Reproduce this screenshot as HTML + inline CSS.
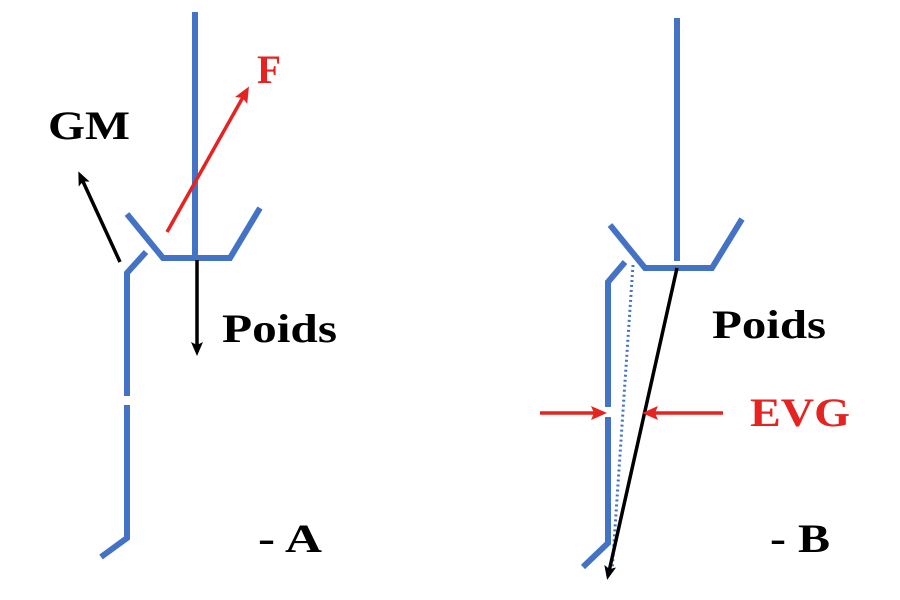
<!DOCTYPE html>
<html><head><style>
html,body{margin:0;padding:0;background:#fff;}
svg{display:block;}
text{font-family:"Liberation Serif",serif;font-weight:bold;}
</style></head><body>
<svg width="900" height="600" viewBox="0 0 900 600" xmlns="http://www.w3.org/2000/svg">
<defs>
<marker id="ak" markerWidth="14" markerHeight="14" refX="10" refY="7" orient="auto" markerUnits="userSpaceOnUse" viewBox="0 0 14 14"><path d="M0,1 L14,7 L0,13 L3,7 Z" fill="#000"/></marker>
<marker id="ar" markerWidth="16" markerHeight="16" refX="12" refY="8" orient="auto" markerUnits="userSpaceOnUse" viewBox="0 0 16 16"><path d="M0,1 L16,8 L0,15 L3,8 Z" fill="#e52421"/></marker>
</defs>
<g fill="none" stroke="#4472c4" stroke-width="6" stroke-linejoin="miter">
<line x1="195" y1="12" x2="195" y2="258"/>
<polyline points="127,214 163,258 230,258 260,208"/>
<polyline points="146,252 127,273 127,396"/>
<polyline points="127,405 127,538 101,557"/>
<line x1="677" y1="18" x2="677" y2="261"/>
<polyline points="610,225 645,268 712,268 742,219"/>
<polyline points="625,262 608,282 608,407"/>
<polyline points="608,417 608,543 583,567"/>
</g>
<g stroke-width="3.5" fill="none">
<line x1="120" y1="262" x2="80" y2="175" stroke="#000" marker-end="url(#ak)"/>
<line x1="167" y1="232" x2="247" y2="90" stroke="#e52421" marker-end="url(#ar)"/>
<line x1="197" y1="260" x2="197" y2="352" stroke="#000" marker-end="url(#ak)"/>
<line x1="633" y1="265" x2="612" y2="572" stroke="#4472c4" stroke-width="3" stroke-dasharray="2,3"/>
<line x1="677" y1="268" x2="608" y2="576" stroke="#000" marker-end="url(#ak)"/>
<line x1="540" y1="413" x2="603" y2="413" stroke="#e52421" marker-end="url(#ar)"/>
<line x1="723" y1="413" x2="646" y2="413" stroke="#e52421" marker-end="url(#ar)"/>
</g>
<text x="48" y="139" font-size="40" fill="#000" textLength="82" lengthAdjust="spacingAndGlyphs">GM</text>
<text x="257" y="83" font-size="40" fill="#e52421" textLength="24" lengthAdjust="spacingAndGlyphs">F</text>
<text x="222" y="342" font-size="40" fill="#000" textLength="115" lengthAdjust="spacingAndGlyphs">Poids</text>
<text x="258" y="552" font-size="40" fill="#000" textLength="64" lengthAdjust="spacingAndGlyphs">-  A</text>
<text x="712" y="338" font-size="40" fill="#000" textLength="114" lengthAdjust="spacingAndGlyphs">Poids</text>
<text x="750" y="426" font-size="40" fill="#e52421" textLength="100" lengthAdjust="spacingAndGlyphs">EVG</text>
<text x="770" y="552" font-size="40" fill="#000" textLength="60" lengthAdjust="spacingAndGlyphs">-  B</text>
</svg>
</body></html>
